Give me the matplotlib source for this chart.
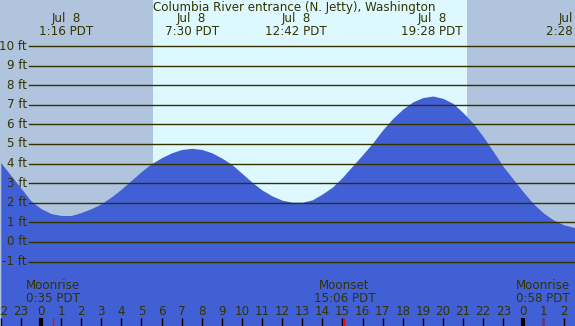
import matplotlib
matplotlib.use("Agg")
import matplotlib.pyplot as plt

# Tide heights (ft), every half hour, hours from midnight Jul 8
tide_hours = [-2.0, -1.5, -1.0, -0.5, 0.0, 0.5, 1.0, 1.5, 2.0, 2.5, 3.0, 3.5, 4.0, 4.5,
              5.0, 5.5, 6.0, 6.5, 7.0, 7.5, 8.0, 8.5, 9.0, 9.5, 10.0, 10.5, 11.0, 11.5,
              12.0, 12.5, 13.0, 13.5, 14.0, 14.5, 15.0, 15.5, 16.0, 16.5, 17.0, 17.5,
              18.0, 18.5, 19.0, 19.5, 20.0, 20.5, 21.0, 21.5, 22.0, 22.5, 23.0, 23.5,
              24.0, 24.5, 25.0, 25.5, 26.0, 26.6]
tide_ft = [4.05, 3.4, 2.75, 2.1, 1.7, 1.45, 1.35, 1.35, 1.5, 1.7, 1.95, 2.3, 2.7, 3.15,
           3.6, 4.0, 4.3, 4.55, 4.72, 4.78, 4.72, 4.55, 4.28, 3.95, 3.5, 3.05, 2.65, 2.35,
           2.13, 2.03, 2.03, 2.15, 2.45, 2.8, 3.3, 3.88, 4.45, 5.05, 5.72, 6.3,
           6.78, 7.15, 7.37, 7.45, 7.33, 7.07, 6.6, 6.06, 5.38, 4.62, 3.85, 3.2,
           2.55, 1.95, 1.48, 1.12, 0.88, 0.72]

# High / low tide labels
extreme_hours = [1.267, 7.5, 12.7, 19.467, 26.467]
extreme_text = ["Jul  8\n1:16 PDT", "Jul  8\n7:30 PDT", "Jul  8\n12:42 PDT",
                "Jul  8\n19:28 PDT", "Jul  9\n2:28 PDT"]

# Sun and moon
sunrise = 5.57
sunset = 21.19
moon_hours = [0.583, 15.1, 24.967]
moon_text = ["Moonrise\n0:35 PDT", "Moonset\n15:06 PDT", "Moonrise\n0:58 PDT"]

grid_levels = list(range(-1, 11))
hour_ticks = list(range(-2, 27))

NIGHT = "#b0c4de"
DAY = "#ddf8ff"
WATER = "#4160d6"
INK = "#333300"

XMIN, XMAX = -2.04, 26.57
YMIN, YMAX = -4.29, 12.35

plt.rcParams["font.family"] = ["DejaVu Sans"]
fs = 8.6

fig = plt.figure(figsize=(5.75, 3.26), dpi=100)
ax = fig.add_axes([0, 0, 1, 1])
ax.set_xlim(XMIN, XMAX)
ax.set_ylim(YMIN, YMAX)
ax.axis("off")

# background: night / day / night
ax.axvspan(XMIN, sunrise, color=NIGHT, lw=0, zorder=0)
ax.axvspan(sunrise, sunset, color=DAY, lw=0, zorder=0)
ax.axvspan(sunset, XMAX, color=NIGHT, lw=0, zorder=0)

ax.fill_between(tide_hours, tide_ft, YMIN, color=WATER, lw=0, zorder=1)

# height grid lines
gx0 = 29 / 575
for lvl in grid_levels:
    ax.axhline(lvl, xmin=gx0, xmax=1, color=INK, lw=1, zorder=2)
    ax.text(XMIN + 27 / 20.1, lvl, f"{lvl} ft", ha="right", va="center",
            fontsize=fs, color=INK, zorder=3)

ax.text(12.6, 11.99, "Columbia River entrance (N. Jetty), Washington",
        ha="center", va="center", fontsize=fs, color=INK, zorder=3)

for t, s in zip(extreme_hours, extreme_text):
    ax.text(t, 11.08, s, ha="center", va="center", fontsize=fs, color=INK,
            linespacing=1.0, zorder=3)

for t, s in zip(moon_hours, moon_text):
    ax.text(t, -2.57, s, ha="center", va="center", fontsize=fs, color=INK,
            linespacing=1.0, zorder=3)

# hour ticks along the bottom
tick_top = -3.88
for h in hour_ticks:
    ax.text(h, -3.57, str(h % 24), ha="center", va="center", fontsize=fs,
            color=INK, zorder=3)
    if h % 24 == 0:
        ax.vlines(h, YMIN, tick_top, color="black", lw=3, zorder=3)
    else:
        ax.vlines(h, YMIN, tick_top, color="black", lw=1, zorder=3)

for t in moon_hours:
    ax.vlines(t, YMIN, tick_top, color="red", lw=1, zorder=4)

fig.savefig("out.png", dpi=100)
